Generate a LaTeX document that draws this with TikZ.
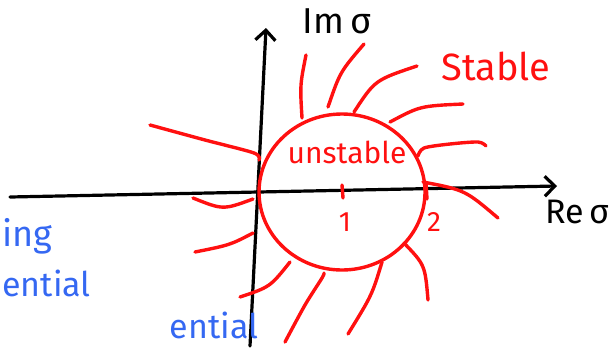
\documentclass[tikz,border=0pt]{standalone}
\usepackage{fontspec}
\setmainfont{Fira Sans}
\usetikzlibrary{arrows.meta}
\definecolor{cInk}{HTML}{000000}
\definecolor{cRed}{HTML}{FF1010}
\definecolor{cBlue}{HTML}{3568F2}
\tikzset{
  axis/.style ={-{Straight Barb[length=5pt,width=10pt]},line width=1.6pt,
                cInk,line cap=round,line join=round},
  ray/.style  ={line width=1.7pt,cRed,line cap=round,line join=round},
  rlbl/.style ={text=cRed,inner sep=0pt},
  klbl/.style ={text=cInk,inner sep=0pt},
  blbl/.style ={text=cBlue,inner sep=0pt},
}

\begin{document}
\begin{tikzpicture}[x=0.5pt,y=-0.5pt]
\clip (0,0) rectangle (613,348);
% axes
\coordinate (xs) at (10,197);
\coordinate (xe) at (557,186);
\coordinate (ys) at (250,346);
\coordinate (ye) at (266,28);
\draw[axis] (xs) -- (xe);
\draw[axis] (ys) -- (ye);
\node[klbl,font=\fontsize{18}{20}\selectfont] (imlbl) at (337,21) {Im\,σ};
\node[klbl,anchor=east,font=\fontsize{17}{19}\selectfont] (relbl) at (610,212) {Re\,σ};
% unstable disc
\coordinate (ctr) at (342,192);
\draw[ray] (ctr) ellipse [x radius=41.5pt,y radius=39pt];
\draw[ray] (342,185) -- (343,198);
\draw[ray] (426,183) -- (427,199);
\node[rlbl,font=\fontsize{14}{16}\selectfont] (one) at (345,222) {1};
\node[rlbl,font=\fontsize{14}{16}\selectfont] (two) at (434,222) {2};
\node[rlbl,font=\fontsize{15}{17}\selectfont] (unstable) at (347,152) {unstable};
\node[rlbl,font=\fontsize{19}{21}\selectfont] (stable) at (496,66) {Stable};
% stable rays
\foreach \a/\c/\b in {{306,55}/{300,85}/{302,118},
                      {364,44}/{340,72}/{328,107},
                      {417,66}/{375,80}/{354,112},
                      {463,104}/{420,106}/{390,122},
                      {423,182}/{465,190}/{498,218},
                      {193,198}/{223,210}/{253,199},
                      {195,252}/{230,245}/{253,233},
                      {240,297}/{270,287}/{290,262},
                      {348,334}/{372,295}/{382,262},
                      {404,243}/{425,265}/{428,300}}
  \draw[ray] (\a) .. controls (\c) .. (\b);
\draw[ray] plot[smooth] coordinates {(418,156) (424,148) (450,144) (478,142) (486,146)};
\draw[ray] plot[smooth] coordinates {(150,125) (205,140) (254,153) (259,160)};
\draw[ray] plot[smooth] coordinates {(285,342) (305,305) (322,278) (324,273)};
% notes at the edges
\node[blbl,anchor=base west,font=\fontsize{18}{20}\selectfont] (bing) at (2,246) {ing};
\node[blbl,anchor=base west,font=\fontsize{17}{19}\selectfont] (bent) at (2,296) {ential};
\node[blbl,anchor=base,font=\fontsize{17}{19}\selectfont] (bbot) at (214,338) {ential};
\end{tikzpicture}
\end{document}
